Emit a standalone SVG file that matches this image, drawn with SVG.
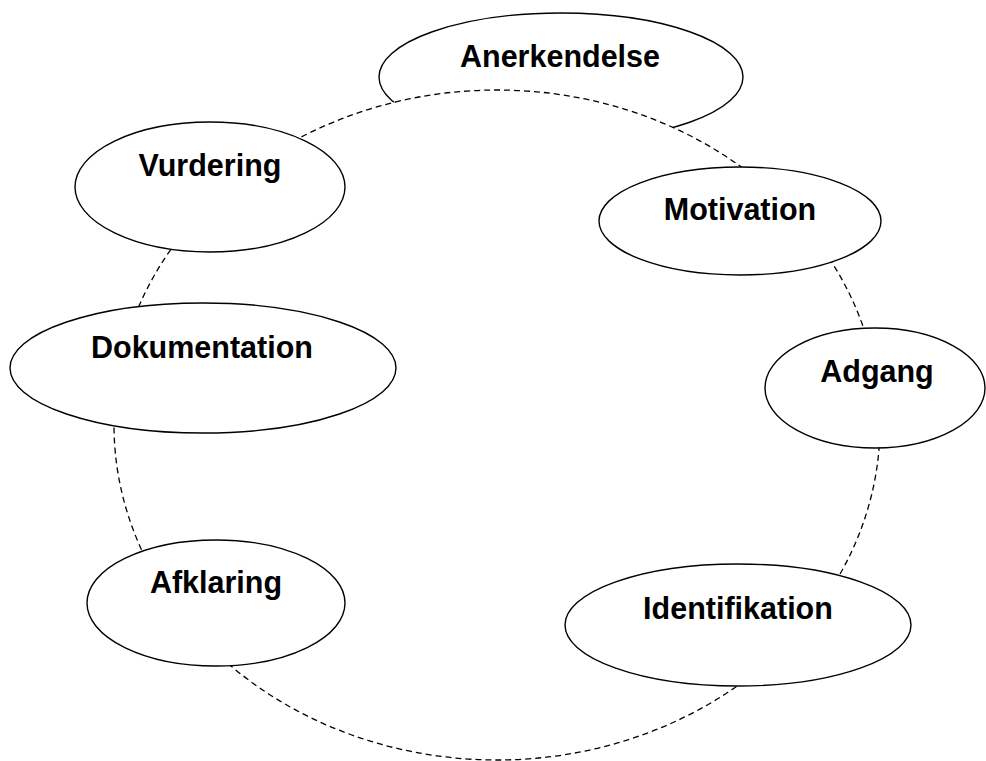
<svg xmlns="http://www.w3.org/2000/svg" width="986" height="761" viewBox="0 0 986 761">
<style>
.node{fill:#fff;stroke:#000;stroke-width:1.4}
.lbl{font-family:"Liberation Sans",Arial,sans-serif;font-weight:bold;font-size:30.5px;fill:#000;text-anchor:middle}
.ring{fill:#fff;stroke:#000;stroke-width:1.3;stroke-dasharray:6 4}
</style>
<rect width="986" height="761" fill="#fff"/>
<g id="n-anerkendelse">
<ellipse class="node" cx="561" cy="77" rx="182" ry="64"/>
<text class="lbl" x="560" y="67">Anerkendelse</text>
</g>
<g id="connectors">
<ellipse class="ring" cx="497" cy="425" rx="383" ry="335"/>
</g>
<g id="n-vurdering">
<ellipse class="node" cx="210" cy="187" rx="135" ry="65"/>
<text class="lbl" x="210" y="176">Vurdering</text>
</g>
<g id="n-dokumentation">
<ellipse class="node" cx="203" cy="368" rx="193" ry="65"/>
<text class="lbl" x="202" y="358">Dokumentation</text>
</g>
<g id="n-afklaring">
<ellipse class="node" cx="216" cy="603" rx="129" ry="63"/>
<text class="lbl" x="216" y="593">Afklaring</text>
</g>
<g id="n-identifikation">
<ellipse class="node" cx="738" cy="625" rx="173" ry="61"/>
<text class="lbl" x="738" y="619">Identifikation</text>
</g>
<g id="n-motivation">
<ellipse class="node" cx="740" cy="221" rx="141" ry="54"/>
<text class="lbl" x="740" y="220">Motivation</text>
</g>
<g id="n-adgang">
<ellipse class="node" cx="875" cy="388" rx="110" ry="60"/>
<text class="lbl" x="877" y="382">Adgang</text>
</g>
</svg>
